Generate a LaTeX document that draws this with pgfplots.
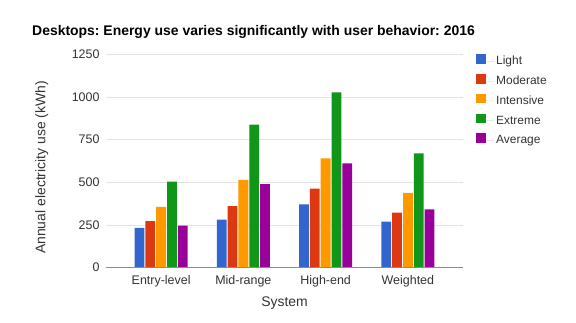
\documentclass[border=0pt]{standalone}
\usepackage{pgfplots}
\pgfplotsset{compat=1.18}
\usepackage{fontspec}
\setmainfont{Liberation Sans}
\frenchspacing
\definecolor{cLight}{HTML}{3366CC}
\definecolor{cModerate}{HTML}{DC3912}
\definecolor{cIntensive}{HTML}{FF9900}
\definecolor{cExtreme}{HTML}{109618}
\definecolor{cAverage}{HTML}{990099}
\definecolor{gridc}{HTML}{E3E3E3}
\definecolor{txt}{HTML}{333333}
\begin{document}
\begin{tikzpicture}[x=1bp,y=1bp]
\useasboundingbox (0,0) rectangle (576,322);
\begin{axis}[
  at={(106bp,54.3bp)}, anchor=south west, scale only axis,
  width=357bp, height=213.4bp,
  ymin=0, ymax=1250, ytick={0,250,500,750,1000,1250},
  xmin=-0.67, xmax=3.67, xtick={0,1,2,3},
  xticklabels={Entry-level,Mid-range,High-end,Weighted},
  ybar=1bp, bar width=9.8bp,
  ymajorgrids, grid style={gridc, line width=0.7pt},
  axis line style={draw=none}, major tick length=0pt,
  /pgf/number format/assume math mode=true,
  /pgf/number format/1000 sep={},
  ticklabel style={font=\fontsize{12.5}{14}\selectfont, text=txt},
  yticklabel style={xshift=-3bp},
  xticklabel style={yshift=-4.5bp},
  xlabel={System}, ylabel={Annual electricity use (kWh)},
  every axis x label/.style={at={(axis description cs:0.5,-0.165)}, anchor=center},
  every axis y label/.style={at={(axis description cs:-0.18,0.47)}, anchor=center, rotate=90},
  label style={font=\fontsize{14}{16}\selectfont, text=txt},
  legend style={at={(1,1)}, anchor=north west, xshift=10bp, yshift=2.5bp,
    draw=none, fill=none, font=\fontsize{12}{14}\selectfont, text=txt,
    row sep=5.8bp, cells={anchor=west}},
  legend image code/.code={\path (0bp,0bp) -- (18bp,0bp);\fill[#1] (0bp,-2.5bp) rectangle (9.5bp,7bp);},
]
\addplot[fill=cLight, draw=none] coordinates {(0,234) (1,281) (2,371) (3,270)};
\addplot[fill=cModerate, draw=none] coordinates {(0,273) (1,361) (2,463) (3,322)};
\addplot[fill=cIntensive, draw=none] coordinates {(0,356) (1,514) (2,641) (3,439)};
\addplot[fill=cExtreme, draw=none] coordinates {(0,504) (1,838) (2,1027) (3,670)};
\addplot[fill=cAverage, draw=none] coordinates {(0,246) (1,490) (2,611) (3,342)};
\legend{Light,Moderate,Intensive,Extreme,Average}
\draw[black!45, line width=0.8pt] (rel axis cs:0,0) -- (rel axis cs:1,0);
\end{axis}
\node[font=\bfseries\fontsize{14}{16}\selectfont, text=black] at (253.5,290.3) {Desktops: Energy use varies significantly with user behavior: 2016};
\end{tikzpicture}
\end{document}
